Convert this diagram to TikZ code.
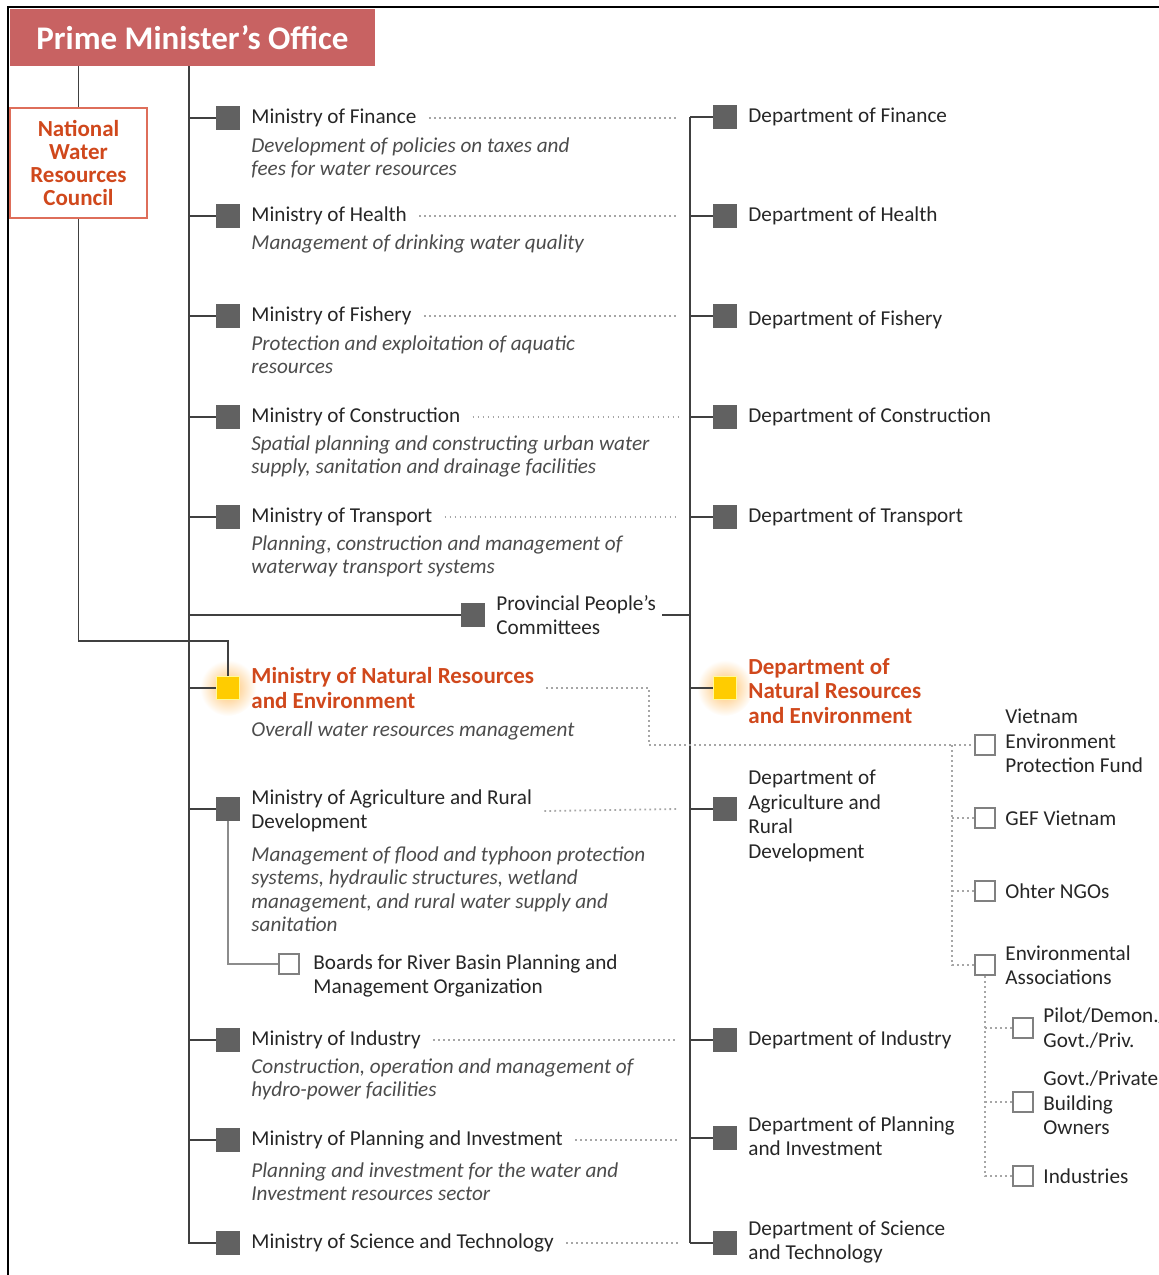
\documentclass[tikz,border=0pt]{standalone}
\usepackage{fontspec}
\setmainfont{Carlito}
\usepackage{xcolor}
\usepackage{tikz}
\usetikzlibrary{positioning}

\definecolor{pmored}{RGB}{200,98,98}
\definecolor{hiorange}{RGB}{208,72,28}
\definecolor{nwrcline}{RGB}{222,110,90}
\definecolor{hiyellow}{RGB}{255,204,0}
\definecolor{glow}{RGB}{255,190,100}

\tikzset{
  lnk/.style={draw=black!75, line width=0.9pt},
  sublnk/.style={draw=black!45, line width=0.9pt},
  dotln/.style={draw=black!35, line width=0.9pt, dash pattern=on 0.9pt off 1.6pt},
  sqbox/.style={fill=black!62, minimum size=12pt, inner sep=0pt},
  hibox/.style={fill=hiyellow, draw=yellow!40, line width=0.4pt, minimum size=11.5pt, inner sep=0pt},
  opbox/.style={draw=black!50, fill=white, line width=0.8pt, minimum size=10pt, inner sep=0pt},
  lbl/.style={anchor=west, inner sep=0pt, align=left, text=black!85, font=\fontsize{10.6}{12.2}\selectfont},
  desc/.style={anchor=north west, inner sep=0pt, align=left, text=black!70, font=\itshape\fontsize{10.6}{11.75}\selectfont},
  hilbl/.style={anchor=west, inner sep=0pt, align=left, text=hiorange, font=\bfseries\fontsize{11.5}{12.3}\selectfont},
}

\begin{document}
\begin{tikzpicture}[x=0.5pt,y=-0.5pt]
    \useasboundingbox (0,0) rectangle (1159,1275);
    \draw[black, line width=1pt] (1159,7) -- (8,7) -- (8,1275);

    % top of the chart
    \node[fill=pmored, minimum width=182.5pt, minimum height=28.5pt, inner sep=0pt, text=white,
          font=\bfseries\fontsize{16.5}{18}\selectfont] (pmo) at (192.5,37.5) {Prime Minister's Office};
    \node[draw=nwrcline, line width=0.7pt, fill=white, minimum width=68.5pt, minimum height=55pt,
          align=center, text=hiorange, font=\bfseries\fontsize{11.5}{11.5}\selectfont]
          (nwrc) at (78.5,163) {National\\Water\\Resources\\Council};
    \draw[lnk] (pmo.south -| nwrc) -- (nwrc.north);

    \coordinate (trunk) at (189,66);
    \coordinate (dtrunk) at (690,117);
    \coordinate (nwrcbend) at (78.5,641);

    % ministries
    \foreach \nm/\y/\dy/\ttl/\dsc in {
        fin/118/19/{Ministry of Finance}/{Development of policies on taxes and\\fees for water resources},
        hea/216/18/{Ministry of Health}/{Management of drinking water quality},
        fis/316/19/{Ministry of Fishery}/{Protection and exploitation of aquatic\\resources},
        con/417/18/{Ministry of Construction}/{Spatial planning and constructing urban water\\supply, sanitation and drainage facilities},
        tra/517/18/{Ministry of Transport}/{Planning, construction and management of\\waterway transport systems},
        ind/1040/18/{Ministry of Industry}/{Construction, operation and management of\\hydro-power facilities},
        pla/1140/22/{Ministry of Planning and Investment}/{Planning and investment for the water and\\Investment resources sector},
        sci/1243/18/{Ministry of Science and Technology}/{}} {
        \node[sqbox] (m\nm) at (228,\y) {};
        \node[lbl] (m\nm-t) at (251,\y) {\ttl};
        \node[desc] (m\nm-d) at (251,\y+\dy) {\dsc};
        \draw[lnk] (trunk |- m\nm) -- (m\nm);
        \draw[dotln] ([xshift=6pt]m\nm-t.east) -- ([xshift=-6pt]dtrunk |- m\nm);
    }
    \draw[lnk] (trunk) |- (msci.west);

    % provincial committees
    \node[sqbox] (prov) at (473,615) {};
    \node[lbl] (prov-t) at (496,615) {Provincial People's\\Committees};
    \draw[lnk] (trunk |- prov) -- (prov);
    \draw[lnk] ([xshift=3pt]prov-t.east) -- (dtrunk |- prov-t.east);

    % natural resources and environment
    \shade[inner color=glow, outer color=white] (228,688) circle (14pt);
    \shade[inner color=glow, outer color=white] (725,688) circle (14pt);
    \node[hibox] (mnre) at (228,688) {};
    \node[hilbl] (mnre-t) at (251,688) {Ministry of Natural Resources\\and Environment};
    \node[desc] (mnre-d) at (251,721) {Overall water resources management};
    \draw[lnk] (trunk |- mnre) -- (mnre);
    \draw[lnk] (nwrc.south) -- (nwrcbend) -| (mnre.north);

    % agriculture and the river basin boards
    \node[sqbox] (magr) at (228,809) {};
    \node[lbl] (magr-t) at (251,811) {Ministry of Agriculture and Rural\\Development};
    \node[desc] (magr-d) at (251,846) {Management of flood and typhoon protection\\systems, hydraulic structures, wetland\\management, and rural water supply and\\sanitation};
    \draw[lnk] (trunk |- magr) -- (magr);
    \draw[dotln] ([xshift=6pt]magr-t.east) -- ([xshift=-6pt]dtrunk |- magr);
    \node[opbox] (brd) at (289,964) {};
    \node[lbl] (brd-t) at (313,976) {Boards for River Basin Planning and\\Management Organization};
    \draw[sublnk] (magr.south) |- (brd.west);

    % departments
    \foreach \nm/\y/\ty/\ttl in {
        fin/117/117/{Department of Finance},
        hea/216/216/{Department of Health},
        fis/316/320/{Department of Fishery},
        con/417/417/{Department of Construction},
        tra/517/517/{Department of Transport},
        agr/809/816/{Department of\\Agriculture and\\Rural\\Development},
        ind/1040/1040/{Department of Industry},
        pla/1138/1136/{Department of Planning\\and Investment},
        sci/1243/1242/{Department of Science\\and Technology}} {
        \node[sqbox] (d\nm) at (725,\y) {};
        \node[lbl] (d\nm-t) at (748,\ty) {\ttl};
        \draw[lnk] (dtrunk |- d\nm) -- (d\nm);
    }
    \draw[lnk] (dtrunk) -- (dtrunk |- dsci);
    \node[hibox] (dnre) at (725,688) {};
    \node[hilbl] (dnre-t) at (748,691) {Department of\\Natural Resources\\and Environment};
    \draw[lnk] (dtrunk |- dnre) -- (dnre);

    % NGOs
    \coordinate (ngobend) at (649,745);
    \coordinate (ngotrunk) at (952,745);
    \node[opbox] (vepf) at (985,745) {};
    \node[lbl] (vepf-t) at (1005,741) {Vietnam\\Environment\\Protection Fund};
    \node[opbox] (gef) at (985,818) {};
    \node[lbl] (gef-t) at (1005,818) {GEF Vietnam};
    \node[opbox] (ngo) at (985,891) {};
    \node[lbl] (ngo-t) at (1005,891) {Ohter NGOs};
    \node[opbox] (envas) at (985,965) {};
    \node[lbl] (envas-t) at (1005,965) {Environmental\\Associations};
    \draw[dotln] ([xshift=6pt]mnre-t.east) -| (ngobend) -- (vepf);
    \draw[dotln] (ngotrunk) |- (envas);
    \draw[dotln] (ngotrunk |- gef) -- (gef);
    \draw[dotln] (ngotrunk |- ngo) -- (ngo);

    \node[opbox] (pilot) at (1023,1028) {};
    \node[lbl] (pilot-t) at (1043,1028) {Pilot/Demon./\\Govt./Priv.};
    \node[opbox] (bown) at (1023,1102) {};
    \node[lbl] (bown-t) at (1043,1103) {Govt./Private\\Building\\Owners};
    \node[opbox] (indus) at (1023,1176) {};
    \node[lbl] (indus-t) at (1043,1176) {Industries};
    \draw[dotln] (envas.south) |- (indus);
    \draw[dotln] (envas.south |- pilot) -- (pilot);
    \draw[dotln] (envas.south |- bown) -- (bown);
\end{tikzpicture}
\end{document}
